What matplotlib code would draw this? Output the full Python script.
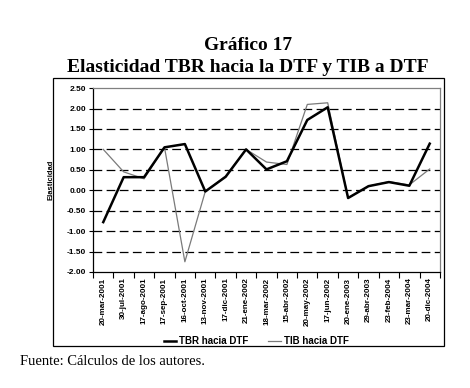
import matplotlib.pyplot as plt
import numpy as np
from matplotlib.patches import Rectangle

# Fechas y elasticidades
fechas = ['20-mar-2001', '30-jul-2001', '17-ago-2001', '17-sep-2001', '16-oct-2001',
          '13-nov-2001', '17-dic-2001', '21-ene-2002', '18-mar-2002', '15-abr-2002',
          '20-may-2002', '17-jun-2002', '20-ene-2003', '29-abr-2003', '23-feb-2004',
          '23-mar-2004', '20-dic-2004']
tbr = [-0.78, 0.32, 0.32, 1.05, 1.13, -0.03, 0.33, 1.00, 0.51, 0.71,
       1.72, 2.03, -0.19, 0.10, 0.20, 0.11, 1.14]
tib = [1.00, 0.45, 0.28, 1.05, -1.75, -0.03, 0.35, 1.00, 0.69, 0.63,
       2.10, 2.14, -0.19, 0.10, 0.21, 0.13, 0.52]
yticks = np.arange(-2.0, 2.51, 0.5)

plt.rcParams['font.family'] = ['Liberation Sans', 'DejaVu Sans']

fig = plt.figure(figsize=(4.7, 3.88), dpi=100)
ax = fig.add_axes([0.198, 0.299, 0.738, 0.474])

x = np.arange(len(fechas))
ax.plot(x, tbr, color='black', lw=1.8, label='TBR hacia DTF', zorder=3)
ax.plot(x, tib, color='#7a7a7a', lw=0.9, label='TIB hacia DTF', zorder=2)

# Rejilla discontinua
for v in yticks[1:-1]:
    ax.axhline(v, color='black', lw=0.9, dashes=(7, 3.5), zorder=1)

ax.set_xlim(-0.5, len(fechas) - 0.5)
ax.set_ylim(-2.0, 2.5)
ax.set_yticks(yticks)
ax.set_yticklabels(['%.2f' % v for v in yticks], fontsize=6, fontweight='bold')
ax.set_xticks(x)
ax.set_xticklabels(fechas, rotation=90, fontsize=5.8, fontweight='bold')
ax.tick_params(axis='x', which='major', length=0, pad=4)
ax.set_xticks(np.arange(-0.5, len(fechas), 1), minor=True)
ax.tick_params(axis='x', which='minor', length=4, width=0.8, direction='out')
ax.tick_params(axis='y', length=3, width=0.8, pad=2)
ax.set_ylabel('Elasticidad', fontsize=5.5, fontweight='bold', labelpad=9)

for s in ['top', 'right']:
    ax.spines[s].set_color('#808080')
    ax.spines[s].set_linewidth(0.9)
for s in ['left', 'bottom']:
    ax.spines[s].set_color('black')
    ax.spines[s].set_linewidth(0.9)

fig.legend(loc='center', bbox_to_anchor=(0.545, 0.121), ncol=2, frameon=False,
           handlelength=1.3, handletextpad=0.3, columnspacing=2.0,
           borderpad=0, prop={'weight': 'bold', 'size': 7})

# Marco exterior del gráfico
fig.add_artist(Rectangle((53 / 470, 1 - 346 / 388), 391 / 470, 268 / 388,
                         transform=fig.transFigure, fill=False, lw=0.9, color='black'))

fig.text(0.527, 0.872, 'Gráfico 17', ha='center', fontsize=14, fontweight='bold',
         family='Liberation Serif')
fig.text(0.527, 0.815, 'Elasticidad TBR hacia la DTF y TIB a DTF', ha='center',
         fontsize=14, fontweight='bold', family='Liberation Serif')
fig.text(0.043, 0.06, 'Fuente: Cálculos de los autores.', fontsize=10.5,
         family='Liberation Serif')

fig.savefig('out.png', dpi=100)
